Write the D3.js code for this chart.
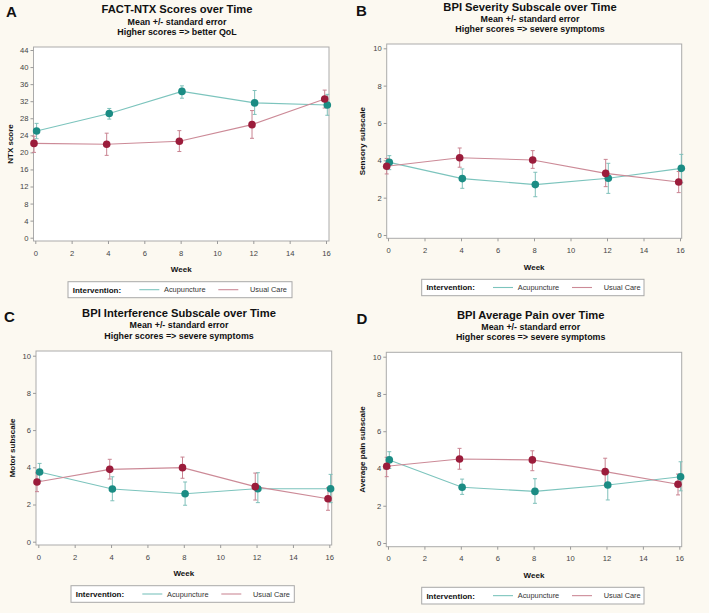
<!DOCTYPE html>
<html><head><meta charset="utf-8">
<script src="https://cdn.jsdelivr.net/npm/d3@7"></script>
<style>
html,body{margin:0;padding:0;background:#fcf9f1;}
svg{display:block;font-family:"Liberation Sans",Arial,sans-serif;}
</style></head>
<body>
<svg id="chart" width="709" height="613"></svg>
<script>
// ---------- data ----------
const weeks = [0, 4, 8, 12, 16];
const seriesNames = ["Acupuncture", "Usual Care"];
const weekTicks = [0, 2, 4, 6, 8, 10, 12, 14, 16];

// Panel A: FACT-NTX
const ntxAcu   = [25.0, 29.1, 34.3, 31.6, 31.1];
const ntxAcuLo = [23.2, 27.8, 32.7, 28.9, 28.7];
const ntxAcuHi = [26.8, 30.3, 35.6, 34.5, 33.6];
const ntxUC    = [22.1, 21.9, 22.6, 26.5, 32.5];
const ntxUCLo  = [20.0, 19.3, 20.2, 23.3, 30.4];
const ntxUCHi  = [23.8, 24.5, 25.1, 29.8, 34.6];
const ntxTicks = [0, 4, 8, 12, 16, 20, 24, 28, 32, 36, 40, 44];

// Panel B: BPI Severity
const sevAcu   = [3.89, 3.02, 2.70, 3.04, 3.57];
const sevAcuLo = [3.50, 2.50, 2.05, 2.23, 2.80];
const sevAcuHi = [4.25, 3.54, 3.36, 3.84, 4.32];
const sevUC    = [3.68, 4.14, 4.02, 3.30, 2.84];
const sevUCLo  = [3.27, 3.63, 3.57, 2.59, 2.27];
const sevUCHi  = [4.10, 4.66, 4.52, 4.05, 3.40];

// Panel C: BPI Interference
const intAcu   = [3.75, 2.83, 2.58, 2.85, 2.85];
const intAcuLo = [3.30, 2.20, 1.96, 2.10, 2.10];
const intAcuHi = [4.21, 3.49, 3.21, 3.71, 3.62];
const intUC    = [3.21, 3.89, 3.98, 2.96, 2.31];
const intUCLo  = [2.69, 3.37, 3.41, 2.24, 1.69];
const intUCHi  = [3.70, 4.43, 4.55, 3.69, 2.90];

// Panel D: BPI Average Pain
const painAcu   = [4.46, 2.99, 2.77, 3.11, 3.56];
const painAcuLo = [4.00, 2.61, 2.13, 2.31, 2.80];
const painAcuHi = [4.90, 3.43, 3.45, 3.85, 4.36];
const painUC    = [4.12, 4.51, 4.46, 3.83, 3.15];
const painUCLo  = [3.56, 3.96, 3.88, 3.10, 2.58];
const painUCHi  = [4.60, 5.08, 4.95, 4.55, 3.70];

const bpiTicks = [0, 2, 4, 6, 8, 10];

// ---------- styling ----------
const markColor = ["#1b8c84", "#9b1c3b"];
const lineColor = ["#7cc4bd", "#cc8a97"];
const barColor  = ["#7fc0ba", "#c98391"];
const dodge = [1.3, -1.3];

const panels = [
  { letter: "A", lx: 6, ly: 17,
    title: "FACT-NTX Scores over Time", sub1: "Mean +/- standard error", sub2: "Higher scores => better QoL",
    tcx: 177, ty: 13.2, s1y: 24.6, s2y: 35.4,
    frame: [33.5, 329, 47, 241], xr: [35.3, 326], yr: [237.7, 50], ydom: [0, 44], yticks: ntxTicks,
    ylabel: "NTX score", ylx: 10, tly: 255.5, wy: 272.2, leg: [68, 281.7, 224, 16],
    acu: [ntxAcu, ntxAcuLo, ntxAcuHi], uc: [ntxUC, ntxUCLo, ntxUCHi] },
  { letter: "B", lx: 356, ly: 16,
    title: "BPI Severity Subscale over Time", sub1: "Mean +/- standard error", sub2: "Higher scores => severe symptoms",
    tcx: 530, ty: 10.8, s1y: 21.8, s2y: 32.4,
    frame: [386.7, 681.7, 44, 238.3], xr: [388, 680], yr: [235, 48.3], ydom: [0, 10], yticks: bpiTicks,
    ylabel: "Sensory subscale", ylx: 362, tly: 253, wy: 269.8, leg: [421.7, 279.3, 222.3, 16.4],
    acu: [sevAcu, sevAcuLo, sevAcuHi], uc: [sevUC, sevUCLo, sevUCHi] },
  { letter: "C", lx: 4, ly: 322,
    title: "BPI Interference Subscale over Time", sub1: "Mean +/- standard error", sub2: "Higher scores => severe symptoms",
    tcx: 179, ty: 317.4, s1y: 328.4, s2y: 338.8,
    frame: [36, 331.7, 351, 545], xr: [38.3, 329.3], yr: [541.7, 355.7], ydom: [0, 10], yticks: bpiTicks,
    ylabel: "Motor subscale", ylx: 11.5, tly: 560.3, wy: 576.4, leg: [71, 585.7, 223.3, 16.6],
    acu: [intAcu, intAcuLo, intAcuHi], uc: [intUC, intUCLo, intUCHi] },
  { letter: "D", lx: 356.5, ly: 323.5,
    title: "BPI Average Pain over Time", sub1: "Mean +/- standard error", sub2: "Higher scores => severe symptoms",
    tcx: 530.7, ty: 319, s1y: 329.8, s2y: 340.4,
    frame: [386.3, 681.7, 352.3, 546.7], xr: [388, 679.3], yr: [543, 356.7], ydom: [0, 10], yticks: bpiTicks,
    ylabel: "Average pain subscale", ylx: 361.5, tly: 561.3, wy: 578.1, leg: [421.7, 587.3, 222.3, 16.7],
    acu: [painAcu, painAcuLo, painAcuHi], uc: [painUC, painUCLo, painUCHi] }
];

const svg = d3.select("#chart");
svg.append("rect").attr("width", 709).attr("height", 613).attr("fill", "#fcf9f1");

panels.forEach(p => {
  const g = svg.append("g");
  const [fx0, fx1, fy0, fy1] = p.frame;
  const x = d3.scaleLinear().domain([0, 16]).range(p.xr);
  const y = d3.scaleLinear().domain(p.ydom).range(p.yr);

  // letter + titles
  g.append("text").attr("x", p.lx).attr("y", p.ly).text(p.letter)
    .attr("font-size", 15).attr("font-weight", "bold").attr("fill", "#111");
  g.append("text").attr("x", p.tcx).attr("y", p.ty).attr("text-anchor", "middle").text(p.title)
    .attr("font-size", 11.2).attr("font-weight", "bold").attr("fill", "#111");
  g.append("text").attr("x", p.tcx).attr("y", p.s1y).attr("text-anchor", "middle").text(p.sub1)
    .attr("font-size", 8.9).attr("font-weight", "bold").attr("fill", "#111");
  g.append("text").attr("x", p.tcx).attr("y", p.s2y).attr("text-anchor", "middle").text(p.sub2)
    .attr("font-size", 8.9).attr("font-weight", "bold").attr("fill", "#111");

  // plot area
  g.append("rect").attr("x", fx0).attr("y", fy0).attr("width", fx1 - fx0).attr("height", fy1 - fy0)
    .attr("fill", "#ffffff").attr("stroke", "#ababab").attr("stroke-width", 1);

  // axes
  const yAxis = d3.axisLeft(y).tickValues(p.yticks).tickSize(3).tickPadding(2).tickFormat(d3.format("d"));
  const ya = g.append("g").attr("transform", `translate(${fx0},0)`).call(yAxis);
  const xAxis = d3.axisBottom(x).tickValues(weekTicks).tickSize(3).tickPadding(4).tickFormat(d3.format("d"));
  const xa = g.append("g").attr("transform", `translate(0,${fy1})`).call(xAxis);
  [ya, xa].forEach(a => {
    a.select(".domain").remove();
    a.selectAll(".tick line").attr("stroke", "#9a9a9a");
    a.selectAll(".tick text").attr("fill", "#444").attr("font-size", 7.6)
      .attr("font-family", "'Liberation Sans',Arial,sans-serif");
  });
  xa.selectAll(".tick text").attr("dy", null).attr("y", p.tly - fy1);

  // axis labels
  g.append("text").attr("x", (fx0 + fx1) / 2).attr("y", p.wy).attr("text-anchor", "middle").text("Week")
    .attr("font-size", 8).attr("font-weight", "bold").attr("fill", "#111");
  g.append("text").attr("transform", `translate(${p.ylx + 3},${(fy0 + fy1) / 2}) rotate(-90)`)
    .attr("text-anchor", "middle").text(p.ylabel)
    .attr("font-size", 8).attr("font-weight", "bold").attr("fill", "#111");

  // series
  const series = [p.acu, p.uc];
  series.forEach((s, si) => {
    const [m, lo, hi] = s;
    const pts = weeks.map((w, i) => ({ w, m: m[i], lo: lo[i], hi: hi[i] }));
    const px = d => x(d.w) + dodge[si];
    // error bars
    const eb = g.append("g");
    eb.selectAll("line.v").data(pts).join("line")
      .attr("x1", px).attr("x2", px).attr("y1", d => y(d.lo)).attr("y2", d => y(d.hi))
      .attr("stroke", barColor[si]).attr("stroke-width", 1);
    ["lo", "hi"].forEach(k => {
      eb.selectAll("line.c" + k).data(pts).join("line")
        .attr("x1", d => px(d) - 2).attr("x2", d => px(d) + 2)
        .attr("y1", d => y(d[k])).attr("y2", d => y(d[k]))
        .attr("stroke", barColor[si]).attr("stroke-width", 1);
    });
    g.append("path").datum(pts)
      .attr("d", d3.line().x(px).y(d => y(d.m)))
      .attr("fill", "none").attr("stroke", lineColor[si]).attr("stroke-width", 1.1);
  });
  series.forEach((s, si) => {
    const pts = weeks.map((w, i) => ({ w, m: s[0][i] }));
    g.selectAll(null).data(pts).join("circle")
      .attr("cx", d => x(d.w) + dodge[si]).attr("cy", d => y(d.m)).attr("r", 3.8)
      .attr("fill", markColor[si]);
  });

  // legend
  const [lx, ly, lw, lh] = p.leg;
  const lg = g.append("g").attr("transform", `translate(${lx},${ly})`);
  lg.append("rect").attr("width", lw).attr("height", lh).attr("fill", "#ffffff")
    .attr("stroke", "#a8a8a8").attr("stroke-width", 1);
  const cy = lh / 2;
  lg.append("text").attr("x", 4.7).attr("y", cy + 3).text("Intervention:")
    .attr("font-size", 8).attr("font-weight", "bold").attr("fill", "#111");
  seriesNames.forEach((n, i) => {
    const sx = i === 0 ? 71.3 : 150.3;
    lg.append("line").attr("x1", sx).attr("x2", sx + 20).attr("y1", cy).attr("y2", cy)
      .attr("stroke", lineColor[i]).attr("stroke-width", 1.1);
    lg.append("text").attr("x", i === 0 ? 96 : 182).attr("y", cy + 2.7).text(n)
      .attr("font-size", 7.4).attr("fill", "#333");
  });
});
</script>
</body></html>
